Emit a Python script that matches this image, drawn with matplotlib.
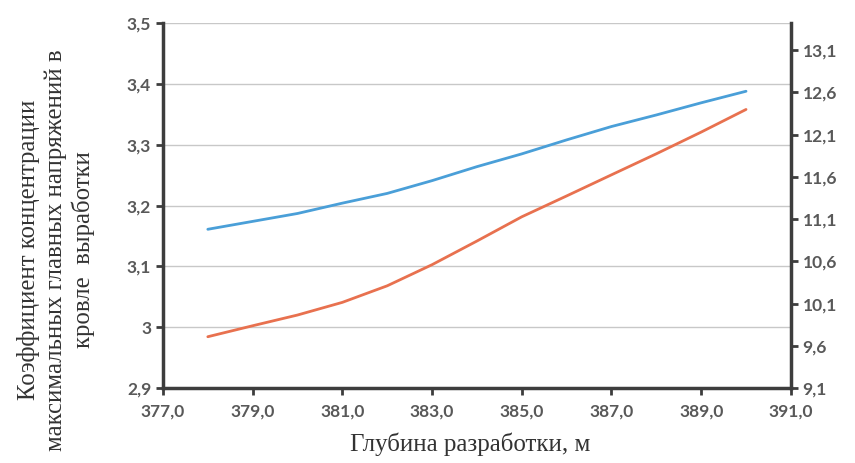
import matplotlib
matplotlib.use("Agg")
import matplotlib.pyplot as plt
from matplotlib.ticker import FixedLocator, FuncFormatter

depth = [378, 379, 380, 381, 382, 383, 384, 385, 386, 387, 388, 389, 390]
k_left = [3.161, 3.174, 3.187, 3.204, 3.220, 3.241, 3.264, 3.285, 3.308, 3.330, 3.349, 3.369, 3.388]
k_right = [9.707, 9.837, 9.964, 10.114, 10.31, 10.56, 10.84, 11.127, 11.374, 11.624, 11.873, 12.13, 12.398]

x_ticks = [377, 379, 381, 383, 385, 387, 389, 391]
left_ticks = [2.9, 3.0, 3.1, 3.2, 3.3, 3.4, 3.5]
left_labels = ["2,9", "3", "3,1", "3,2", "3,3", "3,4", "3,5"]
right_ticks = [9.1, 9.6, 10.1, 10.6, 11.1, 11.6, 12.1, 12.6, 13.1]

ylabel = "Коэффициент концентрации\nмаксимальных главных напряжений в\nкровле  выработки"
xlabel = "Глубина разработки, м"

spine_c = "#3d3d3d"
tick_c = "#595959"
tick_font = "Lato"

fig = plt.figure(figsize=(8.55, 4.63), dpi=100)
ax = fig.add_axes([0.1906, 0.162, 0.7344, 0.788])
ax2 = ax.twinx()

ax.set_xlim(377, 391)
ax.set_ylim(2.9, 3.5)
ax2.set_ylim(9.1, 13.42)

ax.yaxis.set_major_locator(FixedLocator(left_ticks))
ax.set_yticklabels(left_labels)
ax.xaxis.set_major_locator(FixedLocator(x_ticks))
ax.xaxis.set_major_formatter(FuncFormatter(lambda v, p: f"{v:.1f}".replace(".", ",")))
ax2.yaxis.set_major_locator(FixedLocator(right_ticks))
ax2.yaxis.set_major_formatter(FuncFormatter(lambda v, p: f"{v:.1f}".replace(".", ",")))

ax.grid(axis="y", color="#c8c8c8", linewidth=1.0)
ax.set_axisbelow(True)

ax.plot(depth, k_left, color="#4a9fd8", linewidth=2.0, solid_capstyle="round",
        solid_joinstyle="round", zorder=3)
ax2.plot(depth, k_right, color="#e8714f", linewidth=2.0, solid_capstyle="round",
         solid_joinstyle="round", zorder=3)

for a in (ax, ax2):
    a.spines["top"].set_visible(False)
    for s in ("left", "right", "bottom"):
        a.spines[s].set_color(spine_c)
        a.spines[s].set_linewidth(2.5)
ax.spines["right"].set_visible(False)
ax2.spines["left"].set_visible(False)
ax2.spines["bottom"].set_visible(False)

ax.tick_params(axis="both", direction="out", length=5, width=2, color=spine_c,
               labelcolor=tick_c, labelsize=12.5)
ax2.tick_params(axis="y", direction="out", length=5, width=2, color=spine_c,
                labelcolor=tick_c, labelsize=12.5)
ax.tick_params(axis="x", pad=6)
for lab in ax.get_xticklabels() + ax.get_yticklabels() + ax2.get_yticklabels():
    lab.set_fontfamily(tick_font)
    lab.set_fontweight("bold")

fig.text(0.066, 0.46, ylabel, rotation=90, ha="center", va="center",
         fontsize=17.8, family="Liberation Serif", color="#333333", linespacing=1.25)
fig.text(0.55, 0.04, xlabel, ha="center", va="center",
         fontsize=18, family="Liberation Serif", color="#333333")

fig.savefig("out.png", dpi=100)
